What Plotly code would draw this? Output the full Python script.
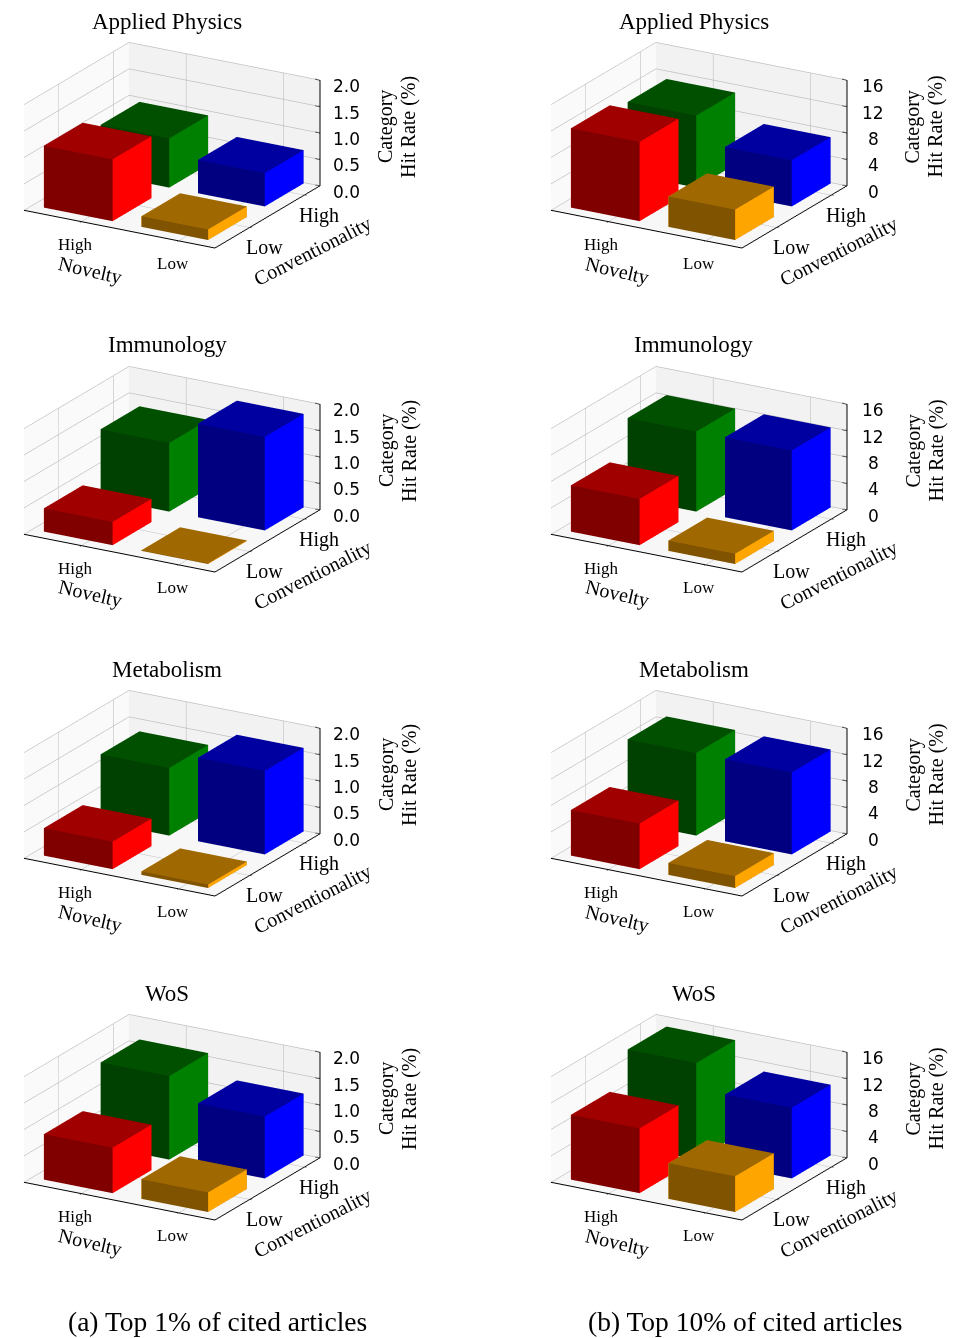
import math
import plotly.graph_objects as go

W, H = 960, 1338

fields = ["Applied Physics", "Immunology", "Metabolism", "WoS"]
top1 = {
    "Applied Physics": [1.17, 0.93, 0.63, 0.20],
    "Immunology":      [0.44, 1.30, 1.77, 0.01],
    "Metabolism":      [0.52, 1.28, 1.58, 0.065],
    "WoS":             [0.86, 1.58, 1.17, 0.37],
}
top10 = {
    "Applied Physics": [12.0, 10.9, 7.0, 4.6],
    "Immunology":      [7.0, 12.1, 12.1, 1.55],
    "Metabolism":      [6.9, 12.5, 12.4, 1.8],
    "WoS":             [9.8, 14.6, 10.7, 5.4],
}
z_ticks_top1 = [0, 0.5, 1, 1.5, 2]
z_ticklabels_top1 = ["0.0", "0.5", "1.0", "1.5", "2.0"]
z_ticks_top10 = [0, 4, 8, 12, 16]
z_ticklabels_top10 = ["0", "4", "8", "12", "16"]
captions = ["(a) Top 1% of cited articles", "(b) Top 10% of cited articles"]
x_tick_pos = [0.30, 0.81]
x_tick_names = ["High", "Low"]
y_tick_pos = [0.33, 0.85]
y_tick_names = ["Low", "High"]

x_spans = {"High": (0.06, 0.42), "Low": (0.57, 0.92)}
y_spans = {"Low": (0.08, 0.45), "High": (0.62, 0.99)}
bar_slots = [("High", "Low"), ("High", "High"), ("Low", "High"), ("Low", "Low")]
palette = [
    ("#800000", "#a00000", "#ff0000"),
    ("#004000", "#005000", "#008000"),
    ("#000080", "#0000a0", "#0000ff"),
    ("#805300", "#a06800", "#ffa500"),
]
SERIF = "Liberation Serif"
R = 2.7
ELEV, AZ = math.radians(20), math.radians(30)
SHIFT_Z = -0.034
EYE = (R * math.sin(AZ) * math.cos(ELEV), -R * math.cos(AZ) * math.cos(ELEV), R * math.sin(ELEV) + SHIFT_Z)


def bar_mesh(xs, ys, h, cols, scene):
    x0, x1 = xs
    y0, y1 = ys
    vx = [x0, x1, x1, x0, x0, x1, x1, x0]
    vy = [y0, y0, y1, y1, y0, y0, y1, y1]
    vz = [0, 0, 0, 0, h, h, h, h]
    i = [0, 0, 4, 4, 0, 0, 1, 1, 2, 2, 3, 3]
    j = [1, 2, 5, 6, 1, 5, 2, 6, 3, 7, 0, 4]
    k = [2, 3, 6, 7, 5, 4, 6, 5, 7, 6, 4, 7]
    front, top, side = cols
    fc = [top, top, top, top, front, front, side, side, front, front, side, side]
    return go.Mesh3d(x=vx, y=vy, z=vz, i=i, j=j, k=k, facecolor=fc, flatshading=True,
                     lighting=dict(ambient=1, diffuse=0, specular=0, roughness=1, fresnel=0),
                     hoverinfo="skip", showscale=False, scene=scene)


fig = go.Figure()
layout = {}
ann = []


def txt(x, y, text, size, angle=0, font=SERIF):
    ann.append(dict(x=x / W, y=1 - y / H, xref="paper", yref="paper", text=text, showarrow=False,
                    textangle=angle, font=dict(family=font, size=size, color="black"),
                    xanchor="center", yanchor="middle"))


def scene_label(x, y, z, text, size, xshift, yshift, font=SERIF):
    return dict(x=x, y=y, z=z, text=text, showarrow=False, xshift=xshift, yshift=yshift,
                font=dict(family=font, size=size, color="black"), xanchor="center", yanchor="middle")


n = 0
for col, (data, ticks, labels, zmax) in enumerate([
    (top1, z_ticks_top1, z_ticklabels_top1, 2.0),
    (top10, z_ticks_top10, z_ticklabels_top10, 16.0),
]):
    dx = col * 526.5
    for row, field in enumerate(fields):
        n += 1
        name = "scene" if n == 1 else f"scene{n}"
        dy = row * 324
        for (nov, conv), h, cols in zip(bar_slots, data[field], palette):
            fig.add_trace(bar_mesh(x_spans[nov], y_spans[conv], h, cols, name))
        # z axis on the right-hand corner, with short ticks
        zx, zy, zz = [1, 1], [1, 1], [0, zmax]
        for t in ticks:
            zx += [None, 1, 0.975]
            zy += [None, 1, 1]
            zz += [None, t, t]
        fig.add_trace(go.Scatter3d(x=zx, y=zy, z=zz, mode="lines", line=dict(color="black", width=2),
                                   hoverinfo="skip", showlegend=False, scene=name))
        common = dict(showspikes=False, zeroline=False, gridcolor="#c0c0c0", gridwidth=1.5,
                      showbackground=True, showticklabels=False, title=dict(text=""))
        lines = dict(showline=True, linecolor="black", linewidth=2, ticks="outside",
                     ticklen=3, tickcolor="black", tickwidth=1)
        anns = []
        for p, t in zip(x_tick_pos, x_tick_names):
            anns.append(scene_label(p, 0, 0, t, 17, -6, -23))
        for p, t in zip(y_tick_pos, y_tick_names):
            anns.append(scene_label(1, p, 0, t, 20, 15, -20))
        for p, t in zip(ticks, labels):
            anns.append(scene_label(1, 1, p, t, 17, 27, -6, font="DejaVu Sans"))
        layout[name] = dict(
            domain=dict(x=[(2 + dx) / W, (342 + dx) / W], y=[1 - (300 + dy) / H, 1 - dy / H]),
            aspectmode="manual", aspectratio=dict(x=1.47, y=1.4, z=0.75),
            camera=dict(eye=dict(x=EYE[0], y=EYE[1], z=EYE[2]), center=dict(x=0, y=0, z=SHIFT_Z),
                        up=dict(x=0, y=0, z=1), projection=dict(type="orthographic")),
            xaxis=dict(range=[0, 1], tickvals=x_tick_pos, backgroundcolor="#fafafa", **common, **lines),
            yaxis=dict(range=[0, 1], tickvals=y_tick_pos, backgroundcolor="#f2f2f2", **common, **lines),
            zaxis=dict(range=[0, zmax], tickvals=ticks, backgroundcolor="#f7f7f7", **common),
            annotations=anns,
        )
        txt(167 + dx, 21 + dy, field, 23)
        txt(90 + dx, 270 + dy, "Novelty", 20, 13)
        txt(312 + dx, 251 + dy, "Conventionality", 20, -27)
        txt(386 + dx, 127 + dy, "Category", 20, -90)
        txt(409 + dx, 127 + dy, "Hit Rate (%)", 20, -90)
    txt(217 + dx * 1.003, 1321, captions[col], 27.5)

fig.update_layout(width=W, height=H, margin=dict(l=0, r=0, t=0, b=0), showlegend=False,
                  paper_bgcolor="white", annotations=ann, **layout)
fig.write_html("out.html", post_script="document.body.style.margin='0';", config=dict(displayModeBar=False))
